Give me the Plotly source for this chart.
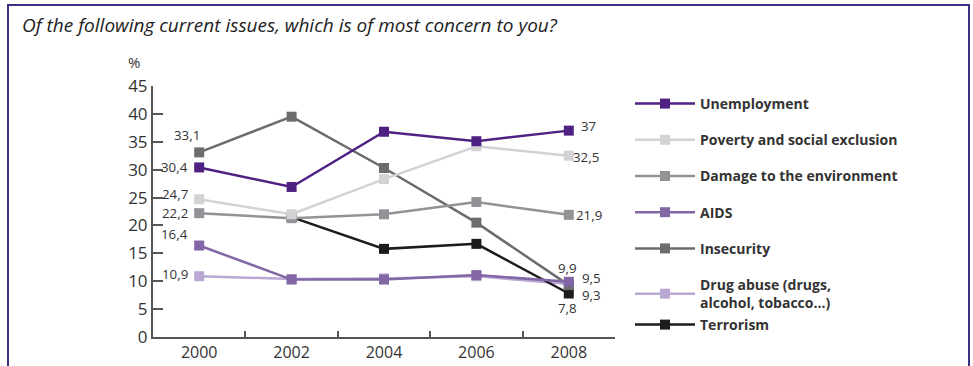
import plotly.graph_objects as go

# Survey years (categorical x axis)
years = ["2000", "2002", "2004", "2006", "2008"]

# Share of respondents (%) naming each issue as their main concern
unemployment = [30.4, 26.9, 36.8, 35.1, 37.0]
poverty = [24.7, 22.0, 28.3, 34.2, 32.5]
environment = [22.2, 21.3, 22.0, 24.2, 21.9]
aids = [16.4, 10.3, 10.3, 11.1, 9.9]
insecurity = [33.1, 39.5, 30.3, 20.5, 9.3]
drug_abuse = [10.9, 10.4, 10.5, 10.9, 9.5]
terrorism = [None, 21.5, 15.8, 16.7, 7.8]

series_names = [
    "Unemployment",
    "Poverty and social exclusion",
    "Damage to the environment",
    "AIDS",
    "Insecurity",
    "Drug abuse (drugs,<br>alcohol, tobacco...)",
    "Terrorism",
]
series_values = [unemployment, poverty, environment, aids, insecurity, drug_abuse, terrorism]
series_colors = ["#4e2183", "#d3d3d5", "#939397", "#8266a6", "#6c6c6f", "#b9a8d3", "#1d1b1d"]
# the last entry sits in its own legend block below the others
series_legend = ["legend"] * 6 + ["legend2"]

# pixel offsets (dx, dy, anchor) of the value labels at the first and last year
first_offsets = [(-9, 0, "right"), (-9, 5, "right"), (-9, 0, "right"), (-9, 12, "right"),
                 (3, 17, "right"), (-9, 2, "right"), None]
last_offsets = [(10, 5, "left"), (2, -1, "left"), (5, 0, "left"), (-1, 14, "center"),
                (11, -10, "left"), (11, 6, "left"), (-1, -15, "center")]

# stacking order of the lines (bottom to top)
draw_order = [5, 6, 4, 2, 1, 3, 0]

W, H = 973, 366
L, R, T, B = 153, 615, 86, 337  # plot area in pixels


def px_x(px):
    return (px - L) / (R - L)


def px_y(py):
    return (B - py) / (B - T)


def fmt(v):
    if float(v).is_integer():
        return f"{int(v)}"
    return f"{v:.1f}".replace(".", ",")


fig = go.Figure()
for i in draw_order:
    fig.add_trace(go.Scatter(
        x=years, y=series_values[i], name=series_names[i],
        mode="lines+markers",
        line=dict(color=series_colors[i], width=2.5),
        marker=dict(symbol="square", size=10, color=series_colors[i]),
        legend=series_legend[i], legendgroup=f"g{i}", legendrank=i + 1,
        connectgaps=False, cliponaxis=False,
    ))

# value labels at both ends of every line (x given as category index)
labels = []
for i, vals in enumerate(series_values):
    for k, offs in ((0, first_offsets[i]), (len(vals) - 1, last_offsets[i])):
        if offs is None or vals[k] is None:
            continue
        dx, dy, anchor = offs
        labels.append(dict(
            x=k, y=vals[k], xref="x", yref="y", text=fmt(vals[k]),
            xanchor=anchor, yanchor="middle", xshift=dx, yshift=dy,
            showarrow=False, font=dict(size=13.3, color="#333333", family="Open Sans"),
        ))

legend_style = dict(
    xanchor="left", yanchor="top",
    font=dict(size=14, color="#333333", family="Open Sans", weight="bold"),
    itemwidth=60, tracegroupgap=15, bgcolor="rgba(0,0,0,0)",
    traceorder="grouped", maxheight=330,
)

fig.update_layout(
    width=W, height=H,
    margin=dict(l=L, r=W - R, t=T, b=H - B, pad=0, autoexpand=False),
    paper_bgcolor="white", plot_bgcolor="white",
    font=dict(family="Open Sans", color="#333333"),
    showlegend=True,
    legend=dict(x=px_x(630), y=px_y(88), **legend_style),
    legend2=dict(x=px_x(630), y=px_y(309), **legend_style),
    xaxis=dict(
        type="category", range=[-0.5, 4.5], tickson="boundaries",
        ticks="inside", ticklen=6, tickwidth=1.5, tickcolor="#555555",
        showline=True, linecolor="#555555", linewidth=2,
        showgrid=False, zeroline=False, automargin=False,
        tickfont=dict(size=16, color="#333333", family="Open Sans"),
    ),
    yaxis=dict(
        range=[0, 45], dtick=5, tick0=0,
        ticks="inside", ticklen=10, tickwidth=1.5, tickcolor="#555555",
        showline=True, linecolor="#555555", linewidth=2,
        showgrid=False, zeroline=False, automargin=False,
        tickfont=dict(size=17, color="#333333", family="Open Sans"),
    ),
    shapes=[
        dict(type="path", xref="paper", yref="paper",
             path=f"M {px_x(8)},{px_y(380)} L {px_x(8)},{px_y(5)} "
                  f"L {px_x(969)},{px_y(5)} L {px_x(969)},{px_y(380)}",
             line=dict(color="#3b3182", width=2)),
    ],
    annotations=labels + [
        dict(text="<i>Of the following current issues, which is of most concern to you?</i>",
             xref="paper", yref="paper", x=px_x(20), y=px_y(25),
             xanchor="left", yanchor="middle", showarrow=False,
             font=dict(size=19, color="#222222", family="Open Sans")),
        dict(text="%", xref="paper", yref="paper", x=px_x(134), y=px_y(62),
             xanchor="center", yanchor="middle", showarrow=False,
             font=dict(size=15, color="#333333", family="Open Sans")),
    ],
)

fig.write_html("out.html")
